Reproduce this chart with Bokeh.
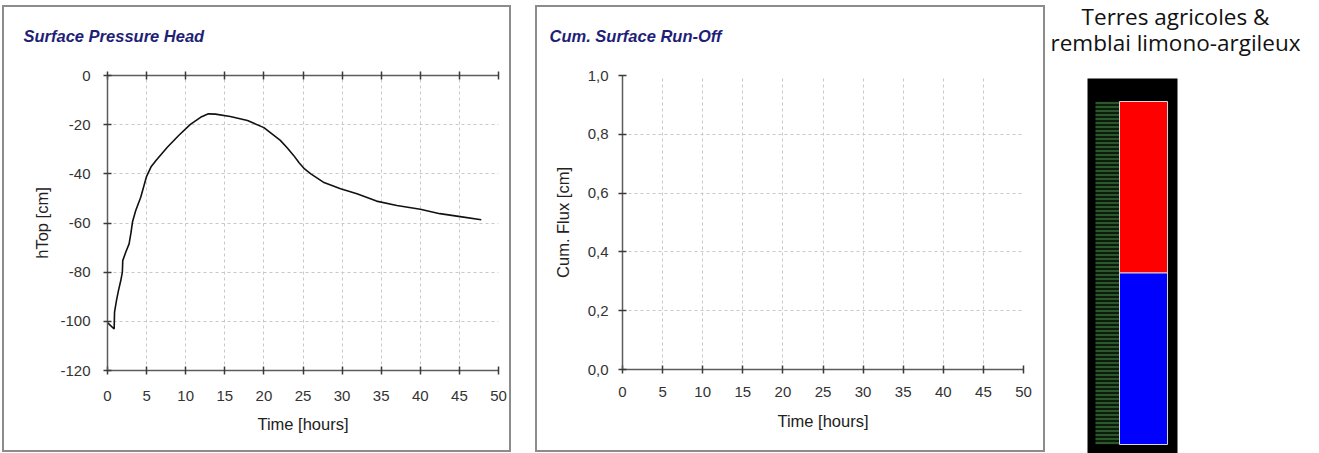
from bokeh.plotting import figure
from bokeh.models import (Range1d, LinearAxis, FixedTicker, Spacer, CustomJSTickFormatter)
from bokeh.layouts import row, column
from bokeh.embed import file_html
from bokeh.resources import INLINE
from bokeh.core.properties import value

# ---------------- data ----------------
time_h = [0, 0.85, 0.9, 1.15, 1.4, 1.7, 1.9, 1.95, 2.33, 2.76, 3.0, 3.2, 3.6, 4.25,
          5.0, 5.6, 6.2, 7.65, 9.1, 10.6, 11.9, 12.9, 13.8, 15.7, 17.9, 20.0, 22.1,
          23.0, 23.8, 24.5, 25.2, 26.0, 27.6, 29.8, 31.9, 34.4, 37.0, 40.0, 42.5,
          45.1, 47.8]
h_top = [-100.5, -103.1, -96.3, -91.5, -87.5, -83.4, -80.0, -75.3, -71.9, -68.5, -64.0,
         -59.5, -55.0, -49.5, -41.0, -37.0, -34.6, -29.2, -24.4, -19.9, -17.0, -15.6,
         -15.7, -16.7, -18.3, -21.2, -26.4, -29.5, -32.5, -35.5, -38.0, -40.0, -43.4,
         -46.1, -48.1, -51.1, -52.9, -54.4, -56.2, -57.4, -58.7]

time_ticks = [0, 5, 10, 15, 20, 25, 30, 35, 40, 45, 50]
htop_ticks = [-120, -100, -80, -60, -40, -20, 0]
flux_ticks = [0.0, 0.2, 0.4, 0.6, 0.8, 1.0]

layer_tops = [0, -50]
layer_bottoms = [-50, -100]
layer_colors = ["#ff0000", "#0000ff"]
profile_top = [0]
profile_bottom = [-100]

title1 = "Surface Pressure Head"
title2 = "Cum. Surface Run-Off"
profile_title = ["Terres agricoles &", "remblai limono-argileux"]

# ---------------- style ----------------
FONT = "Liberation Sans"
AXIS_LINE = "#5c5c5c"
TICK = "#3a3a3a"
GRID = "#c9c9c9"
TITLE_COLOR = "#1f1f78"
PANEL_STYLE = {"background-color": "white",
               "box-shadow": "inset 0 0 0 2px #8c8c8c"}


def style_axis(ax, ticks, standoff=12, label_standoff=10, show_labels=True):
    ax.ticker = FixedTicker(ticks=ticks)
    ax.minor_tick_line_color = None
    ax.axis_line_color = AXIS_LINE
    ax.axis_line_width = 1.5
    ax.major_tick_line_color = TICK
    ax.major_tick_line_width = 1.5
    ax.major_tick_in = 4
    ax.major_tick_out = 4
    ax.major_label_text_font = FONT
    ax.major_label_text_font_size = "15px"
    ax.major_label_text_color = "#333333"
    ax.major_label_standoff = standoff
    ax.axis_label_text_font = FONT
    ax.axis_label_text_font_size = "16.5px"
    ax.axis_label_text_font_style = "normal"
    ax.axis_label_text_color = "#222222"
    ax.axis_label_standoff = label_standoff
    if not show_labels:
        ax.major_label_text_color = None
        ax.major_label_standoff = 0


def style_grid(p, xt, yt):
    p.xgrid.ticker = FixedTicker(ticks=xt)
    p.ygrid.ticker = FixedTicker(ticks=yt)
    for g in (p.xgrid, p.ygrid):
        g.grid_line_color = GRID
        g.grid_line_dash = "3 3"
        g.grid_line_width = 1


def title_strip(width, height, text, x, y):
    t = figure(width=width, height=height, x_range=Range1d(0, width),
               y_range=Range1d(height, 0), min_border=0, frame_align=False,
               x_axis_location=None, y_axis_location=None, title=None,
               toolbar_location=None, output_backend="svg")
    t.grid.visible = False
    t.outline_line_color = None
    t.background_fill_color = None
    t.border_fill_color = None
    t.text(x=[x], y=[y], text=[text], text_font=value(FONT), text_font_size="16.5px",
           text_font_style="bold italic", text_color=TITLE_COLOR,
           text_align="left", text_baseline="middle")
    return t


int_fmt = CustomJSTickFormatter(code="return tick.toFixed(0);")
comma_fmt = CustomJSTickFormatter(code="return tick.toFixed(1).replace('.', ',');")

# ---------------- panel 1 ----------------
t1 = title_strip(509, 45, title1, 21, 30)
p1 = figure(width=509, height=402, x_range=Range1d(0, 50), y_range=Range1d(-120, 0),
            min_border_left=105, min_border_right=13, min_border_top=25,
            min_border_bottom=82, output_backend="svg", toolbar_location=None, title=None)
p1.outline_line_color = None
p1.border_fill_color = None
p1.background_fill_color = "white"
style_axis(p1.xaxis[0], time_ticks, standoff=16, label_standoff=11)
style_axis(p1.yaxis[0], htop_ticks, standoff=13, label_standoff=6)
p1.xaxis[0].formatter = int_fmt
p1.yaxis[0].formatter = int_fmt
p1.xaxis[0].axis_label = "Time [hours]"
p1.yaxis[0].axis_label = "hTop [cm]"
top_axis = LinearAxis()
style_axis(top_axis, time_ticks, show_labels=False)
p1.add_layout(top_axis, "above")
style_grid(p1, time_ticks, htop_ticks)
p1.line(time_h, h_top, line_color="#111111", line_width=1.6)
panel1 = column(t1, p1, styles=PANEL_STYLE)

# ---------------- panel 2 ----------------
t2 = title_strip(510, 45, title2, 14, 30)
p2 = figure(width=510, height=402, x_range=Range1d(0, 50), y_range=Range1d(0, 1),
            min_border_left=87, min_border_right=22, min_border_top=25,
            min_border_bottom=83, output_backend="svg", toolbar_location=None, title=None)
p2.outline_line_color = None
p2.border_fill_color = None
p2.background_fill_color = "white"
style_axis(p2.xaxis[0], time_ticks, standoff=13, label_standoff=12)
style_axis(p2.yaxis[0], flux_ticks, standoff=10, label_standoff=13)
p2.xaxis[0].formatter = int_fmt
p2.yaxis[0].formatter = comma_fmt
p2.xaxis[0].axis_label = "Time [hours]"
p2.yaxis[0].axis_label = "Cum. Flux [cm]"
style_grid(p2, time_ticks, flux_ticks)
panel2 = column(t2, p2, styles=PANEL_STYLE)

# ---------------- panel 3 : soil profile ----------------
PX_PER_CM = 3.43          # vertical drawing scale of the profile
TOP_PX = 101              # pixel row of depth 0 inside this panel
W3, H3 = 273, 453
y_hi = TOP_PX / PX_PER_CM
y_lo = -(H3 - TOP_PX) / PX_PER_CM
p3 = figure(width=W3, height=H3, x_range=Range1d(0, W3), y_range=Range1d(y_lo, y_hi),
            min_border=0, frame_align=False, output_backend="svg", toolbar_location=None,
            x_axis_location=None, y_axis_location=None, title=None)
p3.grid.visible = False
p3.outline_line_color = None
p3.background_fill_color = "white"
p3.border_fill_color = "white"
# black display window
p3.quad(left=42, right=132, top=y_hi - 78 / PX_PER_CM, bottom=y_lo,
        fill_color="black", line_color=None)
# discretisation strip (nodes)
p3.quad(left=50, right=74, top=profile_top, bottom=profile_bottom,
        fill_color="#0b1d0b", line_color=None,
        hatch_pattern="horizontal_line", hatch_color="#4e8f4e",
        hatch_scale=4, hatch_weight=1)
# material layers
p3.quad(left=74, right=122, top=layer_tops, bottom=layer_bottoms,
        fill_color=layer_colors, line_color="#d8d8d8", line_width=1)
# heading
p3.text(x=[130, 130],
        y=[y_hi - 15.5 / PX_PER_CM, y_hi - 41.5 / PX_PER_CM],
        text=profile_title, text_font=value("Open Sans"), text_font_size="22.5px",
        text_color="#111111", text_align="center", text_baseline="alphabetic")

left_block = column(Spacer(width=1045, height=5),
                    row(Spacer(width=2, height=447), panel1,
                        Spacer(width=24, height=447), panel2))
layout = row(left_block, p3)

open("out.html", "w").write(file_html(layout, INLINE))
